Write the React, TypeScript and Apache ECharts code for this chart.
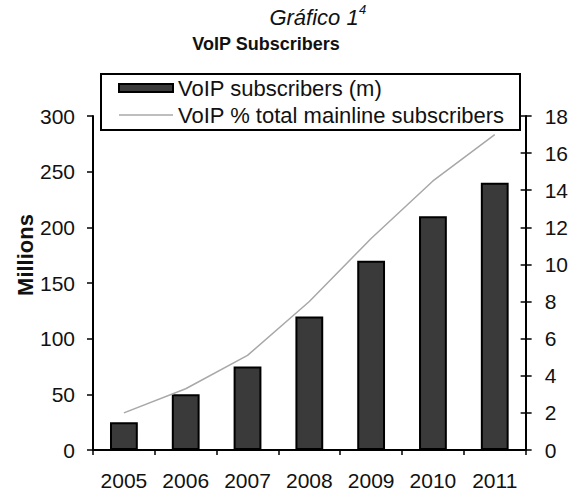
import React, { useEffect, useRef } from "react";
import * as echarts from "echarts";

const years = ["2005", "2006", "2007", "2008", "2009", "2010", "2011"];
const subscribersM = [25, 50, 75, 120, 170, 210, 240];
const pctMainline = [2.0, 3.3, 5.1, 8.0, 11.4, 14.5, 17.0];
const leftTicks = { min: 0, max: 300, interval: 50 };
const rightTicks = { min: 0, max: 18, interval: 2 };
const seriesNames = ["VoIP subscribers (m)", "VoIP % total mainline subscribers"];

const FONT = "'Liberation Sans', Arial, Helvetica, sans-serif";

export default function App() {
  const ref = useRef<HTMLDivElement>(null);
  useEffect(() => {
    if (!ref.current) return;
    const chart = echarts.init(ref.current, undefined, { renderer: "svg" });
    const axisLine = { show: true, lineStyle: { color: "#000", width: 2 } };
    chart.setOption({
      animation: false,
      backgroundColor: "#fff",
      textStyle: { fontFamily: FONT },
      grid: { left: 93, right: 41, top: 116, bottom: 44, containLabel: false },
      legend: {
        orient: "vertical",
        left: 101,
        top: 74,
        padding: [2, 17, 5, 17],
        itemGap: 3,
        itemWidth: 54,
        itemHeight: 8,
        z: 6,
        selectedMode: false,
        textStyle: { fontFamily: FONT, fontSize: 22, color: "#111", lineHeight: 24 },
        data: [
          { name: seriesNames[0], icon: "rect" },
          {
            name: seriesNames[1],
            icon: "path://M0,0 L54,0 L54,1.4 L0,1.4 Z",
            itemStyle: { color: "#a8a8a8", borderWidth: 0 },
          },
        ],
      },
      graphic: [
        {
          type: "rect",
          z: 5,
          shape: { x: 101, y: 74, width: 419, height: 56 },
          style: { fill: "#fff", stroke: "#000", lineWidth: 2 },
        },
        {
          type: "text",
          x: 314,
          y: 17,
          style: {
            text: "Gráfico 1",
            font: `italic 22px ${FONT}`,
            fill: "#111",
            textAlign: "center",
            textVerticalAlign: "middle",
          },
        },
        {
          type: "text",
          x: 359,
          y: 9,
          style: {
            text: "4",
            font: `italic 13px ${FONT}`,
            fill: "#111",
            textAlign: "left",
            textVerticalAlign: "middle",
          },
        },
        {
          type: "text",
          x: 266,
          y: 44,
          style: {
            text: "VoIP Subscribers",
            font: `bold 18px ${FONT}`,
            fill: "#111",
            textAlign: "center",
            textVerticalAlign: "middle",
          },
        },
        {
          type: "text",
          x: 25,
          y: 255,
          rotation: Math.PI / 2,
          style: {
            text: "Millions",
            font: `bold 22px ${FONT}`,
            fill: "#111",
            textAlign: "center",
            textVerticalAlign: "middle",
          },
        },
      ],
      xAxis: {
        type: "category",
        data: years,
        axisLine,
        axisTick: { show: true, length: 5, lineStyle: { color: "#000", width: 1.5 } },
        axisLabel: { fontSize: 21, color: "#111", margin: 20, fontFamily: FONT },
        splitLine: { show: false },
      },
      yAxis: [
        {
          type: "value",
          position: "left",
          ...leftTicks,
          axisLine,
          axisTick: { show: true, length: 6, lineStyle: { color: "#000", width: 1.5 } },
          axisLabel: { fontSize: 21, color: "#111", margin: 18, fontFamily: FONT },
          splitLine: { show: false },
        },
        {
          type: "value",
          position: "right",
          ...rightTicks,
          axisLine,
          axisTick: { show: true, length: 6, lineStyle: { color: "#000", width: 1.5 } },
          axisLabel: { fontSize: 21, color: "#111", margin: 19, fontFamily: FONT },
          splitLine: { show: false },
        },
        {
          type: "value",
          position: "right",
          ...rightTicks,
          axisLine: { show: false },
          axisTick: { show: true, inside: true, length: 5, lineStyle: { color: "#000", width: 1.5 } },
          axisLabel: { show: false },
          splitLine: { show: false },
        },
      ],
      series: [
        {
          name: seriesNames[0],
          type: "bar",
          yAxisIndex: 0,
          barWidth: "45%",
          data: subscribersM,
          itemStyle: { color: "#3a3a3a", borderColor: "#000", borderWidth: 2 },
        },
        {
          name: seriesNames[1],
          type: "line",
          yAxisIndex: 1,
          data: pctMainline,
          symbol: "none",
          showSymbol: false,
          itemStyle: { color: "#a8a8a8" },
          lineStyle: { color: "#a8a8a8", width: 1.5 },
        },
      ],
    });
    return () => chart.dispose();
  }, []);
  return (
    <div
      ref={ref}
      style={{ position: "fixed", left: 0, top: 0, width: 571, height: 494, background: "#fff" }}
    />
  );
}
